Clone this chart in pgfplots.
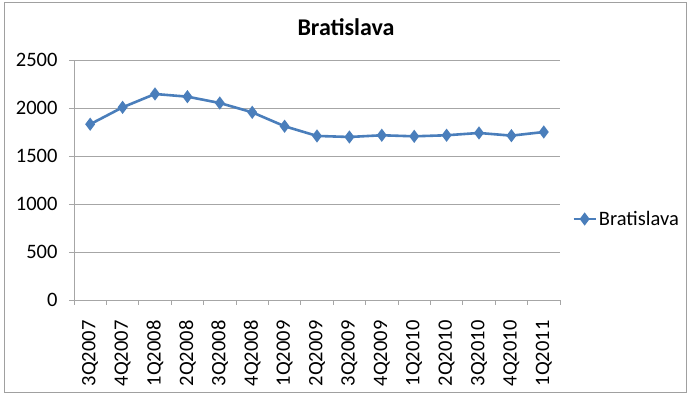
\documentclass[border=0pt]{standalone}
\usepackage{fontspec}
\setmainfont{Carlito}
\usepackage{pgfplots}
\pgfplotsset{compat=1.18}
\definecolor{serie}{HTML}{4A7EBB}
\definecolor{gridc}{HTML}{A6A6A6}
\definecolor{framec}{HTML}{A0A0A0}
\begin{document}
\begin{tikzpicture}[x=1pt,y=1pt]
\useasboundingbox (0,0) rectangle (693,398);
\draw[color=framec, line width=1pt] (4,5) rectangle (686,395);
\node[font=\fontsize{24}{28}\selectfont\bfseries] at (346,371) {Bratislava};
\begin{axis}[
  at={(74pt,98pt)}, anchor=south west,
  scale only axis, width=486pt, height=240pt,
  xmin=-0.5, xmax=14.5, ymin=0, ymax=2500,
  xtick={-0.5,0.5,...,14.5},
  x tick label as interval,
  xticklabels={3Q2007,4Q2007,1Q2008,2Q2008,3Q2008,4Q2008,1Q2009,2Q2009,3Q2009,4Q2009,1Q2010,2Q2010,3Q2010,4Q2010,1Q2011},
  ytick={0,500,...,2500},
  ymajorgrids,
  grid style={gridc, line width=0.8pt},
  axis x line*=bottom, axis y line*=left,
  axis line style={gridc, line width=0.8pt},
  tick style={gridc, line width=0.8pt},
  tick align=outside, major tick length=5pt,
  tick label style={font=\fontsize{20.5}{24}\selectfont, black},
  /pgf/number format/assume math mode=true,
  /pgf/number format/set thousands separator={},
  xticklabel style={rotate=90, anchor=east},
  xticklabel shift=12pt,
  yticklabel shift=8pt,
  legend style={at={(1.025,0.3375)}, anchor=west, draw=none, fill=none,
    font=\fontsize{20.5}{24}\selectfont, inner sep=0pt},
  legend image code/.code={\draw[mark repeat=2,mark phase=2,#1] plot coordinates {(0pt,0pt) (11pt,0pt) (22pt,0pt)};},
]
\addplot[serie, line width=2.6pt, mark=diamond*, mark size=4.5pt, mark options={solid, fill=serie}]
coordinates {(0,1831) (1,2007) (2,2146) (3,2118) (4,2052) (5,1955) (6,1810) (7,1709) (8,1698) (9,1716) (10,1705) (11,1716) (12,1740) (13,1712) (14,1750)};
\addlegendentry{Bratislava}
\end{axis}
\end{tikzpicture}
\end{document}
